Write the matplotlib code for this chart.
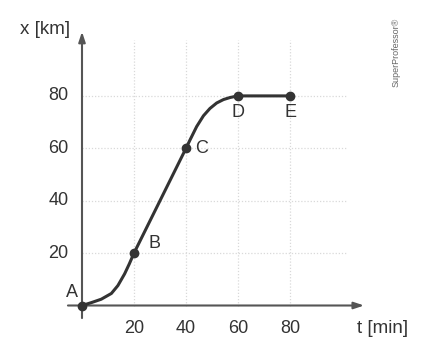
import matplotlib
matplotlib.use("Agg")
from matplotlib import pyplot as plt

# curve (t in min, x in km)
curve_t = [0, 3.6, 7.4, 11.3, 13.8, 16.4, 18.2, 20, 30, 40, 41.5, 44.1, 46.7, 49.2,
           51.8, 54.4, 57, 60, 80]
curve_x = [0, 1.1, 2.4, 4.6, 7.6, 12.1, 15.9, 20, 40, 60, 63.1, 68.3, 72.4, 75.2,
           77.3, 78.6, 79.4, 80, 80]

point_names = ["A", "B", "C", "D", "E"]
point_t = [0, 20, 40, 60, 80]
point_x = [0, 20, 60, 80, 80]

x_ticks = [20, 40, 60, 80]
y_ticks = [20, 40, 60, 80]

plt.rcParams['font.family'] = ['Liberation Sans', 'DejaVu Sans']

fig = plt.figure(figsize=(4.46, 3.51), dpi=100)
ax = fig.add_axes([0, 0, 1, 1])
# pixel mapping: t=0 at px 82, 2.6 px/min ; x=0 at py 305.5, 2.62 px/km
ax.set_xlim(-82 / 2.6, (446 - 82) / 2.6)
ax.set_ylim(-(351 - 305.5) / 2.62, 305.5 / 2.62)

grid_col = "#d9d9d9"
for t in x_ticks:
    ax.plot([t, t], [0, 101.5], color=grid_col, lw=0.9, ls=(0, (1, 1.5)), zorder=1)
for v in y_ticks:
    ax.plot([0, 102], [v, v], color=grid_col, lw=0.9, ls=(0, (1, 1.5)), zorder=1)

axis_col = "#555555"
ax.annotate("", xy=(108.5, 0), xytext=(-5.4, 0),
            arrowprops=dict(arrowstyle="-|>,head_length=0.6,head_width=0.2",
                            color=axis_col, lw=1.5, shrinkA=0, shrinkB=0), zorder=2)
ax.annotate("", xy=(0, 104.5), xytext=(0, -4.8),
            arrowprops=dict(arrowstyle="-|>,head_length=0.6,head_width=0.2",
                            color=axis_col, lw=1.5, shrinkA=0, shrinkB=0), zorder=2)

for t in x_ticks:
    ax.text(t, -8.9, str(t), ha="center", va="center", fontsize=13, color="#333333")
for v in y_ticks:
    ax.text(-5.2, v, str(v), ha="right", va="center", fontsize=13, color="#333333")

ax.text(-4.6, 105.5, "x [km]", ha="right", va="center", fontsize=13.5, color="#333333")
ax.text(115.5, -8.7, "t [min]", ha="center", va="center", fontsize=13.5, color="#333333")

ax.plot(curve_t, curve_x, color="#333333", lw=2.2, solid_capstyle="round",
        solid_joinstyle="round", zorder=3)
ax.plot(point_t, point_x, "o", color="#333333", ms=6, zorder=4)

label_off = {"A": (-3.8, 5), "B": (8, 3.5), "C": (6, 0), "D": (0, -6.5), "E": (0, -6.5)}
for name, t, v in zip(point_names, point_t, point_x):
    dx, dy = label_off[name]
    ax.text(t + dx, v + dy, name, ha="center", va="center", fontsize=13, color="#333333")

ax.text(396 / 2.6 - 82 / 2.6, (305.5 - 52) / 2.62, "SuperProfessor®", rotation=90,
        ha="center", va="center", fontsize=6.5, color="#666666")

ax.axis("off")
fig.savefig("out.png", dpi=100)
